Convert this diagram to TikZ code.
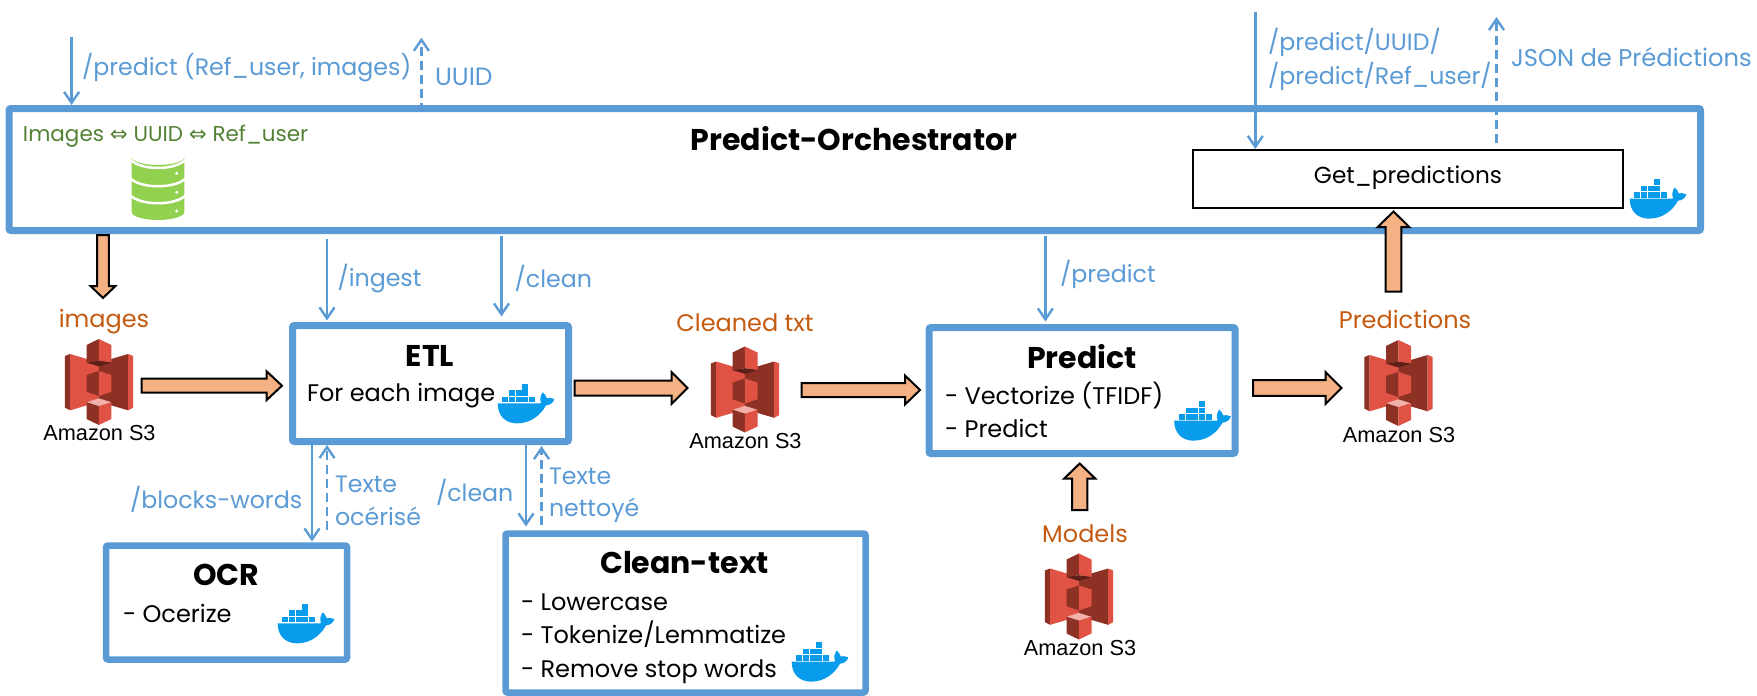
\documentclass[tikz,border=0pt]{standalone}
\usepackage{fontspec}
\setmainfont{Poppins}
\newfontfamily\symf{DejaVu Sans}
\newfontfamily\awsf{Liberation Sans}
\usetikzlibrary{arrows.meta,calc}
\definecolor{bluel}{HTML}{5B9BD5}
\definecolor{orangel}{HTML}{C55A11}
\definecolor{fatfill}{HTML}{F4B183}
\definecolor{greent}{HTML}{548235}
\definecolor{dbgreen}{HTML}{92D050}
\definecolor{dock}{HTML}{0A9CEC}
\definecolor{sred}{HTML}{E05243}
\definecolor{sdark}{HTML}{8C3123}
\definecolor{sdeep}{HTML}{5E1F18}
\definecolor{slight}{HTML}{F2B0A9}
\newcommand{\fs}[1]{\fontsize{#1}{#1}\selectfont}
\newcommand{\fatarrow}[5]{%
  \coordinate (fb) at ($(#2)!#5pt!(#1)$);
  \draw[fatstyle] ($(#1)!#3pt!90:(#2)$) -- ($(fb)!#3pt!90:(#2)$) -- ($(fb)!#4pt!90:(#2)$) -- (#2)
    -- ($(fb)!#4pt!-90:(#2)$) -- ($(fb)!#3pt!-90:(#2)$) -- ($(#1)!#3pt!-90:(#2)$) -- cycle;
}
\tikzset{
  box/.style={draw=bluel,fill=white,line width=7pt,rounded corners=2pt,inner sep=0pt,outer sep=0pt},
  flow/.style={draw=bluel,line width=2.4pt,-{Straight Barb[length=11pt,width=15pt,line width=2.4pt]}},
  reply/.style={flow,dash pattern=on 9pt off 5pt},
  fatstyle/.style={draw=black,fill=fatfill,line width=2pt,miter limit=10},
  txt/.style={inner sep=0pt,outer sep=0pt},
  lbl/.style={txt,text=bluel,font=\fs{23.7},anchor=west},
  olbl/.style={txt,text=orangel,font=\fs{24}},
  ttl/.style={txt,font=\bfseries\fs{30}},
  body/.style={txt,font=\fs{24},anchor=west},
  aws/.style={txt,font=\awsf\fs{21.7}},
  docker/.pic={
    \begin{scope}[x=0.3333pt,y=-0.3333pt,shift={(-145,-117)}]
      \fill[dock] (60,116) .. controls (60,155) and (85,176) .. (118,176)
        .. controls (160,176) and (190,150) .. (205,122)
        .. controls (215,122) and (227,115) .. (230,103)
        .. controls (222,99) and (212,99) .. (207,100)
        .. controls (205,92) and (200,87) .. (195,83)
        .. controls (188,92) and (186,104) .. (190,114) -- (188,116) -- cycle;
      \foreach \xx in {74,94,114,134,154} \fill[dock] (\xx,96) rectangle ++(18,17);
      \foreach \xx in {94,114,134} \fill[dock] (\xx,77) rectangle ++(18,17);
      \fill[dock] (134,58) rectangle ++(18,17);
    \end{scope}
  },
  sthree/.pic={
    \begin{scope}[x=0.3333pt,y=-0.3333pt,shift={(-177.5,-186)}]
      \fill[sdark] (75,108) -- (91,102) -- (91,271) -- (75,263) -- cycle;
      \fill[sred] (91,102) -- (178,128) -- (178,245) -- (91,271) -- cycle;
      \fill[sdark] (265,102) -- (177,128) -- (177,245) -- (265,271) -- cycle;
      \fill[sred] (265,102) -- (280,108) -- (280,263) -- (265,271) -- cycle;
      \fill[sdark] (140,75) -- (177,57) -- (177,122) -- (140,128) -- cycle;
      \fill[sred] (177,57) -- (215,75) -- (215,128) -- (177,122) -- cycle;
      \fill[sdeep] (140,128) -- (177,122) -- (215,128) -- (177,139) -- cycle;
      \fill[sdark] (140,165) -- (177,153) -- (177,228) -- (140,215) -- cycle;
      \fill[sred] (177,153) -- (215,165) -- (215,215) -- (177,228) -- cycle;
      \fill[slight] (140,247) -- (177,235) -- (215,247) -- (177,258) -- cycle;
      \fill[sdark] (140,247) -- (177,258) -- (177,315) -- (140,297) -- cycle;
      \fill[sred] (177,258) -- (215,247) -- (215,297) -- (177,315) -- cycle;
    \end{scope}
  },
}
\begin{document}
\begin{tikzpicture}[x=1pt,y=-1pt]
\useasboundingbox[fill=white] (0,0) rectangle (1757,696);

% boxes
\node[box,minimum width=1691.5pt,minimum height=122pt] (orch) at (854.75,169.5) {};
\node[box,minimum width=276pt,minimum height=116pt] (etl) at (430.5,383.5) {};
\node[box,minimum width=306pt,minimum height=126pt] (pred) at (1082,390.5) {};
\node[box,line width=6.5pt,minimum width=241pt,minimum height=114pt] (ocr) at (226.5,602.5) {};
\node[box,line width=6.5pt,minimum width=360pt,minimum height=159pt] (clean) at (685.5,613) {};
\node[draw=black,fill=white,line width=2pt,inner sep=0pt,outer sep=0pt,minimum width=430pt,minimum height=58pt] (get) at (1408,179) {};
\node[txt,font=\fs{23.2}] (gettxt) at (1408,178) {Get\_predictions};

% titles
\node[ttl] (torch) at (854,139) {Predict-Orchestrator};
\node[ttl] (tetl) at (430,356) {ETL};
\node[ttl] (tpred) at (1082,357) {Predict};
\node[ttl] (tocr) at (226,575) {OCR};
\node[ttl] (tclean) at (684.5,563) {Clean-text};

% body text
\node[body] (b1) at (307,396) {For each image};
\node[body] (b2) at (945,395.7) {- Vectorize (TFIDF)};
\node[body] (b3) at (945,428) {- Predict};
\node[body] (b4) at (123,613) {- Ocerize};
\node[body] (b5) at (521,602) {- Lowercase};
\node[body] (b6) at (521,634) {- Tokenize/Lemmatize};
\node[body] (b7) at (521,672) {- Remove stop words};
\node[txt,text=greent,font=\fs{21.5},anchor=west] (map) at (23,136) {Images {\symf\fs{21.5}⇔} UUID {\symf\fs{21.5}⇔} Ref\_user};

% database
\fill[dbgreen] (131.7,157) arc[x radius=26.3,y radius=8,start angle=180,end angle=0] -- (184.3,212) arc[x radius=26.3,y radius=8,start angle=0,end angle=180] -- cycle;
\draw[white,line width=2.5pt] (130,159) .. controls (140,171) and (176,171) .. (186,159);
\draw[white,line width=2.5pt] (130,178) .. controls (140,189) and (176,189) .. (186,178);
\draw[white,line width=2.5pt] (130,195) .. controls (140,206) and (176,206) .. (186,195);
\foreach \yy in {173.3,192.3,211} \fill[white] (176.7,\yy) circle[radius=1.7];

% docker icons
\pic at (1658,199) {docker};
\pic at (526,403.7) {docker};
\pic at (1202.5,421) {docker};
\pic at (306,623.7) {docker};
\pic at (820,662) {docker};

% S3 icons
\pic at (99,382) {sthree};
\pic at (745,389.5) {sthree};
\pic at (1398.5,383) {sthree};
\pic at (1079,596.5) {sthree};
\node[aws] (a1) at (99.5,433) {Amazon S3};
\node[aws] (a2) at (745.5,441) {Amazon S3};
\node[aws] (a3) at (1399,435) {Amazon S3};
\node[aws] (a4) at (1080,648) {Amazon S3};
\node[olbl] (o1) at (104,322) {images};
\node[olbl] (o2) at (745,322.7) {Cleaned txt};
\node[olbl] (o3) at (1405,319) {Predictions};
\node[olbl] (o4) at (1085,534) {Models};

% blue labels
\node[lbl] (l1) at (82,67.7) {/predict (Ref\_user, images)};
\node[lbl,font=\fs{25}] (l2) at (435,76.7) {UUID};
\node[lbl] (l3) at (1268,42.7) {/predict/UUID/};
\node[lbl] (l4) at (1268,76) {/predict/Ref\_user/};
\node[lbl,font=\fs{24.2}] (l5) at (1511,56.7) {JSON de Prédictions};
\node[lbl] (l6) at (337.5,279) {/ingest};
\node[lbl] (l7) at (514.7,278) {/clean};
\node[lbl] (l8) at (1060,274) {/predict};
\node[lbl] (l9) at (130,499) {/blocks-words};
\node[lbl] (l10) at (335,484) {Texte};
\node[lbl] (l11) at (335,516.7) {océrisé};
\node[lbl] (l12) at (436,492.7) {/clean};
\node[lbl] (l13) at (549,476.7) {Texte};
\node[lbl] (l14) at (549,510) {nettoyé};

% connector anchors
\coordinate (c1) at (71.6,37);
\coordinate (c2) at (421.4,37.7);
\coordinate (c3) at (1255.3,11.7);
\coordinate (c4) at (1496.5,17);
\coordinate (xa) at (327,0);
\coordinate (xb) at (501.5,0);
\coordinate (xc) at (1045.4,0);
\coordinate (xd) at (312,0);
\coordinate (xe) at (327,0);
\coordinate (xf) at (526,0);
\coordinate (xg) at (541.5,0);

% thin connectors
\draw[flow,shorten >=3.5pt] (c1) -- (c1 |- orch.north);
\draw[reply,shorten <=-3pt] (c2 |- orch.north) -- (c2);
\draw[flow,shorten >=1pt] (c3) -- (c3 |- get.north);
\draw[reply,shorten <=7pt] (c4 |- get.north) -- (c4);
\draw[flow,shorten <=8.5pt,shorten >=5pt] (xa |- orch.south) -- (xa |- etl.north);
\draw[flow,shorten <=5.5pt,shorten >=9pt] (xb |- orch.south) -- (xb |- etl.north);
\draw[flow,shorten <=5pt,shorten >=6pt] (xc |- orch.south) -- (xc |- pred.north);
\draw[flow,shorten <=3.5pt,shorten >=4pt] (xd |- etl.south) -- (xd |- ocr.north);
\draw[reply,shorten <=15.5pt,shorten >=3.5pt] (xe |- ocr.north) -- (xe |- etl.south);
\draw[flow,shorten <=3.5pt,shorten >=7pt] (xf |- etl.south) -- (xf |- clean.north);
\draw[reply,shorten <=8.5pt,shorten >=4.5pt] (xg |- clean.north) -- (xg |- etl.south);

% fat arrows
\coordinate (f1a) at (103,235); \coordinate (f1b) at (103,298);
\coordinate (f2a) at (141.5,385.7); \coordinate (f2b) at (282,385.7);
\coordinate (f3a) at (574.5,388); \coordinate (f3b) at (687.5,388);
\coordinate (f4a) at (801.5,390); \coordinate (f4b) at (920,390);
\coordinate (f5a) at (1253,388); \coordinate (f5b) at (1341.5,388);
\coordinate (f6a) at (1079.7,510); \coordinate (f6b) at (1079.7,463.5);
\coordinate (f7a) at (1393.5,291.5); \coordinate (f7b) at (1393.5,211.5);
\fatarrow{f1a}{f1b}{5.8}{12.5}{12}
\fatarrow{f2a}{f2b}{7}{14.5}{15.5}
\fatarrow{f3a}{f3b}{7.5}{16}{16}
\fatarrow{f4a}{f4b}{7}{14.5}{15}
\fatarrow{f5a}{f5b}{7.8}{16}{16}
\fatarrow{f6a}{f6b}{7.6}{15.5}{15}
\fatarrow{f7a}{f7b}{7.9}{15.8}{15.5}
\end{tikzpicture}
\end{document}
